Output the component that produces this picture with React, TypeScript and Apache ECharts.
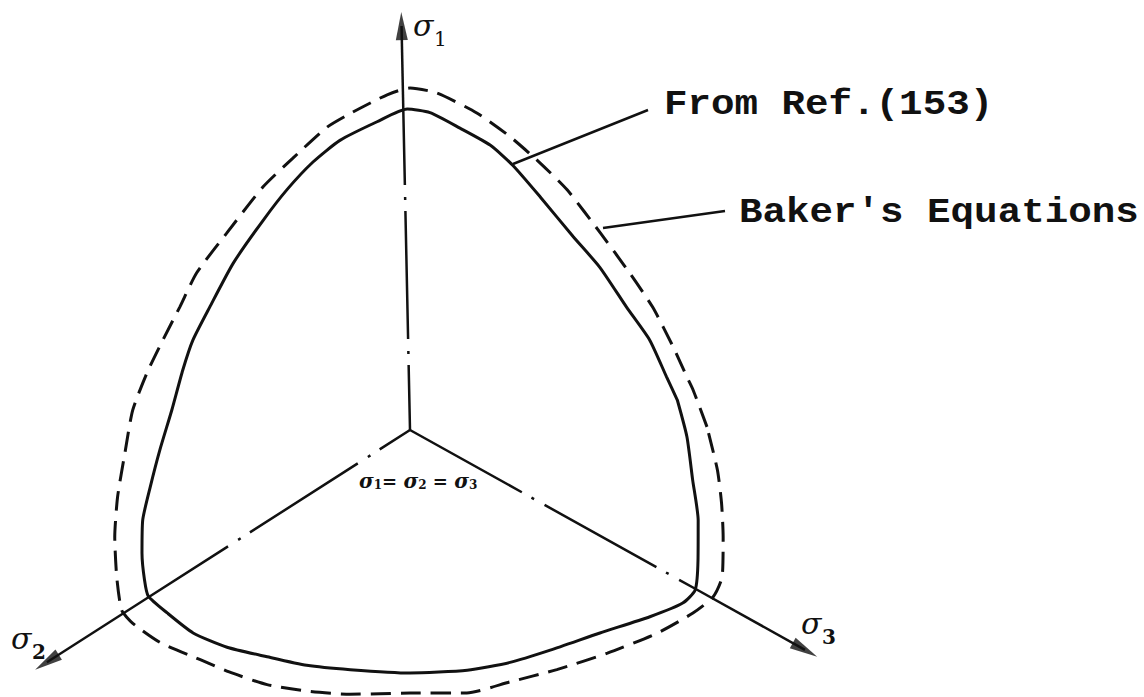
import { useEffect, useRef } from "react";
import * as echarts from "echarts";

// Yield-surface traces in the deviatoric (π) plane.
// Angle: degrees counter-clockwise from the horizontal; radius: plane units.
const refAngles = [
  6.4, 11.7, 20.6, 29.5, 40.6, 49.8, 60.8, 68.8, 74.3, 80.6, 86.4, 90.5, 96.1,
  103.6, 109.9, 117.1, 125.0, 136.7, 148.4, 157.5, 165.2, 175.2, 184.6, 192.4,
  198.6, 204.7, 209.5, 212.4, 217.0, 223.1, 229.9, 237.8, 246.3, 256.0, 270.0,
  283.4, 293.3, 302.5, 313.1, 322.1, 327.6, 330.7, 335.7, 342.6, 350.0, 358.6,
];
const refRadii = [
  269, 262, 256, 249, 250, 253, 267, 284, 296, 306, 318, 321, 310,
  298, 285, 270, 256, 243, 235, 235, 235, 239, 251, 266,
  282, 295, 305, 310, 304, 297, 284, 268, 257, 247, 243,
  247, 253, 261, 278, 304, 323, 327, 316, 302, 287, 277,
];

const bakerAngles = [
  0.6, 8.0, 10.8, 17.5, 26.8, 35.5, 46.0, 56.8, 64.0, 71.2, 78.1, 85.4, 90.0,
  93.9, 100.2, 105.3, 113.3, 121.2, 132.9, 143.6, 151.9, 160.0, 167.6, 175.9,
  184.6, 192.9, 199.9, 206.6, 212.0, 214.9, 220.4, 227.6, 233.9, 240.7, 249.0,
  257.2, 270.0, 282.2, 291.6, 301.5, 311.5, 320.6, 327.1, 331.1, 334.8, 341.1,
  346.8, 352.6,
];
const bakerRadii = [
  297, 286, 282, 276, 272, 270, 274, 287, 297, 310, 324, 338, 342,
  336, 323, 314, 296, 284, 269, 265, 261, 263, 269, 278,
  286, 300, 314, 328, 340, 338, 328, 311, 301, 292, 280,
  271, 263, 269, 271, 281, 298, 320, 337, 346, 345, 331,
  320, 310,
];

// Principal stress axes
const axisSubscripts = ["1", "2", "3"];
const axisAngles = [91.2, 212.6, 330.9];
const axisLengths = [418, 445, 466];
const axisInner = [321, 310, 327];
const axisDashOffsets = [63, 92, 0];

const INK = "#111";

function closedLoop(angles: number[], radii: number[]) {
  const pts = angles.map((a, i) => [radii[i], a]);
  pts.push(pts[0]);
  return pts;
}

export default function App() {
  const ref = useRef<HTMLDivElement>(null);

  useEffect(() => {
    if (!ref.current) return;
    const chart = echarts.init(ref.current, undefined, { renderer: "svg" });

    const axisSeries: any[] = [];
    axisAngles.forEach((a, i) => {
      axisSeries.push({
        type: "line",
        coordinateSystem: "polar",
        silent: true,
        showSymbol: false,
        data: [
          [0, a],
          [axisInner[i], a],
        ],
        lineStyle: {
          color: INK,
          width: 2.5,
          type: [128, 11, 3, 12],
          dashOffset: axisDashOffsets[i],
        },
      });
      axisSeries.push({
        type: "line",
        coordinateSystem: "polar",
        silent: true,
        showSymbol: false,
        data: [
          [axisInner[i], a],
          [axisLengths[i] - 14, a],
        ],
        lineStyle: { color: INK, width: 2.5 },
      });
    });

    const arrowSeries = {
      type: "scatter",
      coordinateSystem: "polar",
      silent: true,
      symbol: "triangle",
      symbolSize: [12, 28],
      itemStyle: { color: INK },
      data: axisAngles.map((a, i) => ({
        value: [axisLengths[i] - 14, a],
        symbolRotate: a - 90,
      })),
    };

    const monoFont = '"Liberation Mono", "DejaVu Sans Mono", monospace';
    const sigmaFont = '"DejaVu Serif", "Liberation Serif", serif';

    const text = (
      t: string,
      x: number,
      y: number,
      size: number,
      family: string,
      extra: any = {},
      el: any = {}
    ) => ({
      type: "text",
      x,
      y,
      silent: true,
      ...el,
      style: {
        text: t,
        fill: INK,
        fontSize: size,
        fontFamily: family,
        align: "left",
        textAlign: "left",
        verticalAlign: "middle",
        textVerticalAlign: "middle",
        ...extra,
      },
    });

    // positions of the σ glyph of each axis label (left, middle)
    const sigmaPos = [
      [413, 25],
      [11, 638],
      [801, 623],
    ];
    const axisLabels: any[] = [];
    sigmaPos.forEach(([x, y], i) => {
      axisLabels.push(text("σ", x, y, 30, sigmaFont, { fontStyle: "italic" }));
      axisLabels.push(
        text(axisSubscripts[i], x + 21, y + 14, 20, sigmaFont, {
          fontWeight: i === 0 ? "normal" : "bold",
        })
      );
    });

    chart.setOption({
      animation: false,
      backgroundColor: "#fff",
      polar: { center: [410, 430], radius: 500 },
      angleAxis: {
        type: "value",
        min: 0,
        max: 360,
        startAngle: 0,
        clockwise: false,
        show: false,
      },
      radiusAxis: { type: "value", min: 0, max: 500, show: false },
      series: [
        {
          name: "From Ref.(153)",
          type: "line",
          coordinateSystem: "polar",
          silent: true,
          showSymbol: false,
          smooth: 0.2,
          data: closedLoop(refAngles, refRadii),
          lineStyle: { color: INK, width: 3 },
        },
        {
          name: "Baker's Equations",
          type: "line",
          coordinateSystem: "polar",
          silent: true,
          showSymbol: false,
          smooth: 0.2,
          data: closedLoop(bakerAngles, bakerRadii),
          lineStyle: { color: INK, width: 3, type: [20, 10] },
        },
        ...axisSeries,
        arrowSeries,
      ],
      graphic: [
        // leader lines to the curve labels
        {
          type: "line",
          silent: true,
          shape: { x1: 513, y1: 164, x2: 648, y2: 110 },
          style: { stroke: INK, lineWidth: 2.5 },
        },
        {
          type: "line",
          silent: true,
          shape: { x1: 603, y1: 228, x2: 725, y2: 211 },
          style: { stroke: INK, lineWidth: 2.5 },
        },
        text(
          "From Ref.(153)",
          664,
          105,
          35,
          monoFont,
          { fontWeight: "bold" },
          { scaleX: 1.12 }
        ),
        text(
          "Baker's Equations",
          739,
          213,
          35,
          monoFont,
          { fontWeight: "bold" },
          { scaleX: 1.12 }
        ),
        ...axisLabels,
        // hydrostatic axis
        text(
          "{s|σ}{d|1}{e|= }{s|σ}{d|2}{e| = }{s|σ}{d|3}",
          359,
          481,
          19,
          sigmaFont,
          {
            fontStyle: "italic",
            fontWeight: "bold",
            rich: {
              s: {
                fontSize: 20,
                lineHeight: 20,
                fontStyle: "italic",
                fontWeight: "bold",
                fontFamily: sigmaFont,
              },
              d: {
                fontSize: 12,
                lineHeight: 12,
                fontWeight: "bold",
                fontFamily: sigmaFont,
                verticalAlign: "bottom",
              },
              e: {
                fontSize: 18,
                lineHeight: 20,
                fontWeight: "bold",
                fontFamily: sigmaFont,
              },
            },
          }
        ),
      ],
    });

    return () => chart.dispose();
  }, []);

  return (
    <div
      ref={ref}
      style={{
        position: "fixed",
        left: 0,
        top: 0,
        width: 1144,
        height: 697,
        background: "#fff",
      }}
    />
  );
}
